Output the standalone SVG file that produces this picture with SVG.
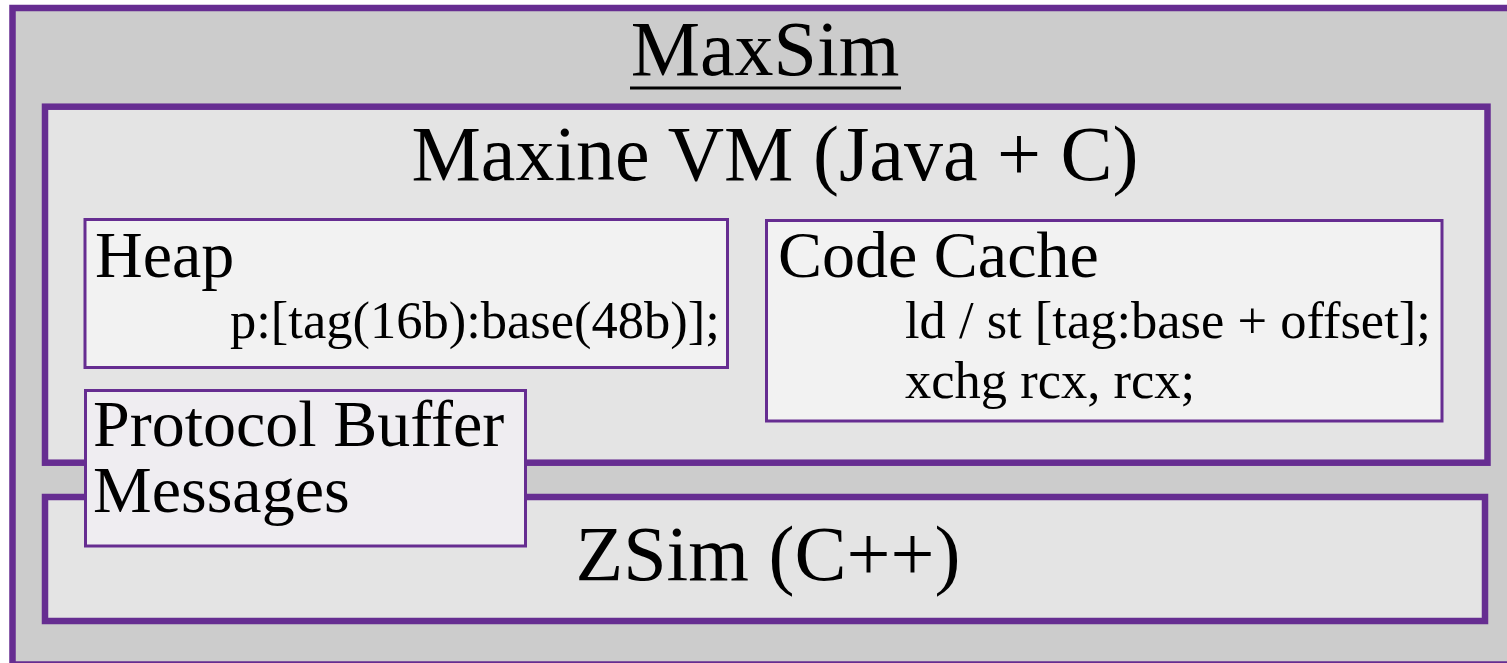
<svg xmlns="http://www.w3.org/2000/svg" width="1507" height="663" viewBox="0 0 1507 663">
<style>
.t{font-family:"Liberation Serif","Times New Roman",serif;fill:#000}
.big{font-size:78px}
.mid{font-size:66px}
.small{font-size:52.5px}
.thick{stroke:#662d91;stroke-width:6.5}
.thin{stroke:#662d91;stroke-width:3}
</style>
<g id="maxsim">
<rect x="12.5" y="8" width="1500" height="656.5" fill="#cccccc" class="thick"/>
<text class="t big" x="765" y="75" text-anchor="middle">MaxSim</text>
<line x1="630" y1="88" x2="901" y2="88" stroke="#000" stroke-width="3"/>
</g>
<g id="maxine">
<rect x="45" y="106.7" width="1442.5" height="356" fill="#e4e4e4" class="thick"/>
<text class="t big" x="775" y="180" text-anchor="middle">Maxine VM (Java + C)</text>
</g>
<g id="zsim">
<rect x="45" y="497" width="1440" height="124" fill="#e4e4e4" class="thick"/>
<text class="t big" x="768" y="580" text-anchor="middle">ZSim (C++)</text>
</g>
<g id="heap">
<rect x="85" y="219.5" width="642.5" height="148" fill="#f2f2f2" class="thin"/>
<text class="t mid" x="95" y="277">Heap</text>
<text class="t small" x="230" y="338">p:[tag(16b):base(48b)];</text>
</g>
<g id="codecache">
<rect x="766.5" y="220.5" width="675.5" height="200.5" fill="#f2f2f2" class="thin"/>
<text class="t mid" x="778" y="277">Code Cache</text>
<text class="t small" x="905" y="338">ld / st [tag:base + offset];</text>
<text class="t small" x="905" y="398">xchg rcx, rcx;</text>
</g>
<g id="protobuf">
<rect x="85.5" y="390.5" width="440" height="155.5" fill="#efedf1" class="thin"/>
<text class="t mid" x="93" y="446">Protocol Buffer</text>
<text class="t mid" x="93" y="512">Messages</text>
</g>
<g id="connectors"/>
</svg>
